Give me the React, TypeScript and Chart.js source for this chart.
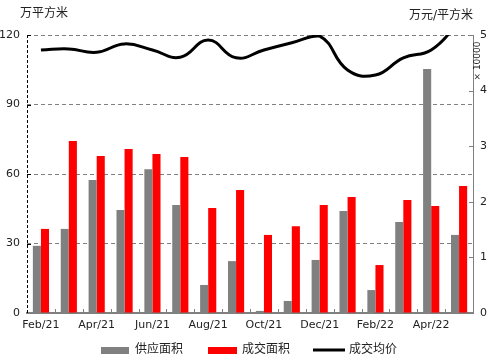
import React, { useEffect, useRef } from 'react';
import { Chart, registerables } from 'chart.js';
Chart.register(...registerables);

const months = ['Feb/21', 'Mar/21', 'Apr/21', 'May/21', 'Jun/21', 'Jul/21', 'Aug/21', 'Sep/21', 'Oct/21', 'Nov/21', 'Dec/21', 'Jan/22', 'Feb/22', 'Mar/22', 'Apr/22', 'May/22'];
const supplyArea = [29.0, 36.3, 57.4, 44.5, 62.1, 46.6, 12.1, 22.4, 0.9, 5.2, 22.9, 44.0, 9.9, 39.3, 105.3, 33.7];
const dealArea = [36.3, 74.2, 67.8, 70.8, 68.6, 67.3, 45.3, 53.1, 33.7, 37.5, 46.6, 50.1, 20.7, 48.8, 46.2, 54.8];
const avgPrice = [4.73, 4.75, 4.69, 4.84, 4.73, 4.6, 4.91, 4.59, 4.73, 4.86, 4.98, 4.37, 4.28, 4.59, 4.73, 5.23];
const leftTicks = [0, 30, 60, 90, 120];
const rightTicks = [0, 1, 2, 3, 4, 5];
const seriesNames = ['供应面积', '成交面积', '成交均价'];
const leftTitle = '万平方米';
const rightTitle = '万元/平方米';
const rightUnit = '× 10000';

const FONT = '"DejaVu Sans", "Noto Sans CJK SC", sans-serif';
const GRAY = '#808080';
const RED = '#ff0000';
const TEXT = '#222222';

const decorPlugin = {
  id: 'decor',
  afterDraw(chart: any) {
    const { ctx, chartArea: ca, scales } = chart;
    const y = scales.y, y1 = scales.y1, x = scales.x;
    ctx.save();
    // left dashed axis line
    ctx.strokeStyle = '#000';
    ctx.lineWidth = 1;
    ctx.setLineDash([3, 2]);
    ctx.beginPath();
    ctx.moveTo(ca.left + 0.5, ca.top);
    ctx.lineTo(ca.left + 0.5, ca.bottom);
    ctx.stroke();
    ctx.setLineDash([]);
    // left inward ticks
    leftTicks.forEach((v) => {
      if (v === 0) return;
      const py = Math.round(y.getPixelForValue(v)) + 0.5;
      ctx.beginPath();
      ctx.moveTo(ca.left, py);
      ctx.lineTo(ca.left + 4, py);
      ctx.stroke();
    });
    // right inward ticks
    ctx.strokeStyle = GRAY;
    rightTicks.forEach((v) => {
      if (v === 0) return;
      const py = Math.round(y1.getPixelForValue(v)) + 0.5;
      ctx.beginPath();
      ctx.moveTo(ca.right, py);
      ctx.lineTo(ca.right - 4, py);
      ctx.stroke();
    });
    // x inward ticks at category boundaries
    for (let i = 1; i < months.length; i++) {
      const px = Math.round((x.getPixelForValue(i - 1) + x.getPixelForValue(i)) / 2) + 0.5;
      ctx.beginPath();
      ctx.moveTo(px, ca.bottom);
      ctx.lineTo(px, ca.bottom - 4);
      ctx.stroke();
    }
    // titles
    ctx.fillStyle = TEXT;
    ctx.font = `12px ${FONT}`;
    ctx.textBaseline = 'middle';
    ctx.textAlign = 'left';
    ctx.fillText(leftTitle, 20, 14);
    ctx.textAlign = 'right';
    ctx.fillText(rightTitle, ca.right, 16);
    // rotated unit label
    ctx.save();
    ctx.translate(ca.right + 5, 61);
    ctx.rotate(-Math.PI / 2);
    ctx.textAlign = 'center';
    ctx.textBaseline = 'middle';
    ctx.font = `9px ${FONT}`;
    ctx.fillText(rightUnit, 0, 0);
    ctx.restore();
    // legend
    const ly = 350;
    ctx.font = `12px ${FONT}`;
    ctx.textAlign = 'left';
    ctx.fillStyle = GRAY;
    ctx.fillRect(101, ly - 3, 28, 7);
    ctx.fillStyle = TEXT;
    ctx.fillText(seriesNames[0], 135, ly);
    ctx.fillStyle = RED;
    ctx.fillRect(208, ly - 3, 29, 7);
    ctx.fillStyle = TEXT;
    ctx.fillText(seriesNames[1], 242, ly);
    ctx.strokeStyle = '#000';
    ctx.lineWidth = 3;
    ctx.beginPath();
    ctx.moveTo(313, ly);
    ctx.lineTo(345, ly);
    ctx.stroke();
    ctx.fillText(seriesNames[2], 349, ly);
    ctx.restore();
  },
};

export default function App() {
  const ref = useRef<HTMLCanvasElement>(null);
  useEffect(() => {
    document.body.style.margin = '0';
    const chart = new Chart(ref.current as HTMLCanvasElement, {
      type: 'bar',
      data: {
        labels: months,
        datasets: [
          {
            type: 'line',
            label: seriesNames[2],
            data: avgPrice,
            yAxisID: 'y1',
            borderColor: '#000',
            backgroundColor: '#000',
            borderWidth: 3,
            pointRadius: 0,
            tension: 0.45,
            order: 0,
          } as any,
          {
            label: seriesNames[0],
            data: supplyArea,
            yAxisID: 'y',
            backgroundColor: GRAY,
            barPercentage: 1,
            categoryPercentage: 0.58,
            order: 1,
          },
          {
            label: seriesNames[1],
            data: dealArea,
            yAxisID: 'y',
            backgroundColor: RED,
            barPercentage: 1,
            categoryPercentage: 0.58,
            order: 1,
          },
        ],
      },
      options: {
        responsive: false,
        animation: false,
        layout: { padding: { top: 35, left: 0, right: 0, bottom: 30 } },
        plugins: { legend: { display: false }, tooltip: { enabled: false } },
        scales: {
          x: {
            offset: true,
            grid: { display: false, drawTicks: false },
            border: { display: true, color: GRAY, width: 2 },
            ticks: {
              autoSkip: false,
              maxRotation: 0,
              padding: 6,
              color: TEXT,
              font: { family: FONT, size: 11 },
              callback: (_v: any, i: number) => (i % 2 === 0 ? months[i] : ''),
            },
            afterFit: (s: any) => { s.height = 21; },
          },
          y: {
            position: 'left',
            min: 0,
            max: 120,
            afterBuildTicks: (s: any) => { s.ticks = leftTicks.map((v) => ({ value: v })); },
            grid: { color: GRAY, lineWidth: 1, drawTicks: false },
            border: { display: false, dash: [4, 3] },
            ticks: { padding: 7, color: TEXT, font: { family: FONT, size: 11 } },
            afterFit: (s: any) => { s.width = 27; },
          },
          y1: {
            position: 'right',
            min: 0,
            max: 5,
            afterBuildTicks: (s: any) => { s.ticks = rightTicks.map((v) => ({ value: v })); },
            grid: { drawOnChartArea: false, drawTicks: false },
            border: { display: true, color: GRAY, width: 1 },
            ticks: { padding: 7, color: TEXT, font: { family: FONT, size: 11 } },
            afterFit: (s: any) => { s.width = 17; },
          },
        },
      },
      plugins: [decorPlugin],
    });
    return () => chart.destroy();
  }, []);
  return (
    <div style={{ width: 490, height: 364, background: '#fff' }}>
      <canvas ref={ref} width={490} height={364} />
    </div>
  );
}
